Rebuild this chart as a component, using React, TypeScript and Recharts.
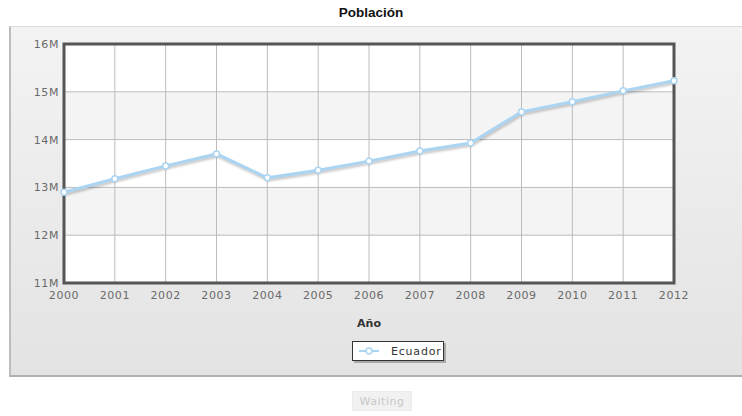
import { LineChart, Line, XAxis, YAxis, CartesianGrid, Legend, ReferenceArea } from "recharts";

const years = ["2000", "2001", "2002", "2003", "2004", "2005", "2006", "2007", "2008", "2009", "2010", "2011", "2012"];
// población en millones
const ecuador = [12.9, 13.18, 13.45, 13.7, 13.2, 13.36, 13.55, 13.76, 13.93, 14.58, 14.79, 15.02, 15.23];
const yTicks = [11, 12, 13, 14, 15, 16];

const data = years.map((year, i) => ({ year, Ecuador: ecuador[i] }));

const LINE_COLOR = "#aad4f2";
const tickStyle = { fontFamily: "DejaVu Sans, Verdana, sans-serif", fontSize: 11, fill: "#6a6a6a", letterSpacing: 0.6 };

function LegendBox() {
  return (
    <div style={{ height: 30, display: "flex", alignItems: "flex-end" }}>
      <div
        style={{
          width: 92,
          height: 20,
          boxSizing: "border-box",
          background: "#fff",
          border: "1px solid #333",
          boxShadow: "2px 2px 0 #aaa",
          display: "flex",
          alignItems: "center",
          fontFamily: "DejaVu Sans, Verdana, sans-serif",
          fontSize: 11,
          letterSpacing: 0.8,
          color: "#333",
        }}
      >
        <svg width={26} height={10} style={{ marginLeft: 4, marginRight: 8 }}>
          <line x1={2} y1={5} x2={22} y2={5} stroke={LINE_COLOR} strokeWidth={2} />
          <circle cx={12} cy={5} r={3} fill="#fff" stroke={LINE_COLOR} strokeWidth={1.5} />
        </svg>
        Ecuador
      </div>
    </div>
  );
}

export default function App() {
  return (
    <div style={{ position: "absolute", left: 0, top: 0, width: 742, height: 416, background: "#fff", overflow: "hidden" }}>
      <style>{`.pob-line .recharts-line-curve { filter: drop-shadow(1px 2px 1px rgba(0,0,0,0.22)); }`}</style>
      <div
        style={{
          position: "absolute",
          left: 0,
          top: 5,
          width: 742,
          textAlign: "center",
          fontFamily: "Liberation Sans, Arial, sans-serif",
          fontWeight: "bold",
          fontSize: 13.5,
          color: "#111",
        }}
      >
        Población
      </div>
      <div
        style={{
          position: "absolute",
          left: 9,
          top: 26,
          width: 740,
          height: 351,
          boxSizing: "border-box",
          borderLeft: "2px solid #bdbdbd",
          borderTop: "1px solid #dcdcdc",
          borderBottom: "2px solid #b0b0b0",
          background: "linear-gradient(#f3f3f3, #e3e3e3)",
        }}
      />
      <div style={{ position: "absolute", left: 0, top: 0 }}>
        <LineChart width={742} height={416} data={data} margin={{ top: 44, right: 68, left: 0, bottom: 55 }}>
          <CartesianGrid stroke="#bcbcbc" horizontalFill={["#ffffff", "#f4f4f4"]} fillOpacity={1} />
          <XAxis
            dataKey="year"
            height={48}
            tickLine={false}
            axisLine={false}
            tick={tickStyle}
            interval={0}
            label={{
              value: "Año",
              position: "insideBottom",
              offset: 4,
              style: { fontFamily: "DejaVu Sans, Verdana, sans-serif", fontSize: 11, fontWeight: "bold", fill: "#333" },
            }}
          />
          <YAxis
            width={64}
            domain={[11, 16]}
            ticks={yTicks}
            tickFormatter={(v: number) => `${v}M`}
            tickLine={false}
            axisLine={false}
            tickSize={3}
            tick={tickStyle}
          />
          <ReferenceArea x1="2000" x2="2012" y1={11} y2={16} fill="none" stroke="#555" strokeWidth={3} ifOverflow="visible" />
          <Legend
            verticalAlign="bottom"
            content={() => <LegendBox />}
            wrapperStyle={{ left: 352, width: 94, height: 30 }}
          />
          <Line
            className="pob-line"
            type="linear"
            dataKey="Ecuador"
            stroke={LINE_COLOR}
            strokeWidth={3}
            dot={{ r: 3, fill: "#fff", stroke: LINE_COLOR, strokeWidth: 1.5 }}
            isAnimationActive={false}
          />
        </LineChart>
      </div>
      <div
        style={{
          position: "absolute",
          left: 352,
          top: 391,
          width: 60,
          height: 20,
          boxSizing: "border-box",
          background: "#f1f1f1",
          border: "1px solid #ebebeb",
          color: "#c8c8c8",
          fontFamily: "DejaVu Sans, Verdana, sans-serif",
          fontSize: 11,
          letterSpacing: 0.5,
          display: "flex",
          alignItems: "center",
          justifyContent: "center",
        }}
      >
        Waiting
      </div>
    </div>
  );
}
